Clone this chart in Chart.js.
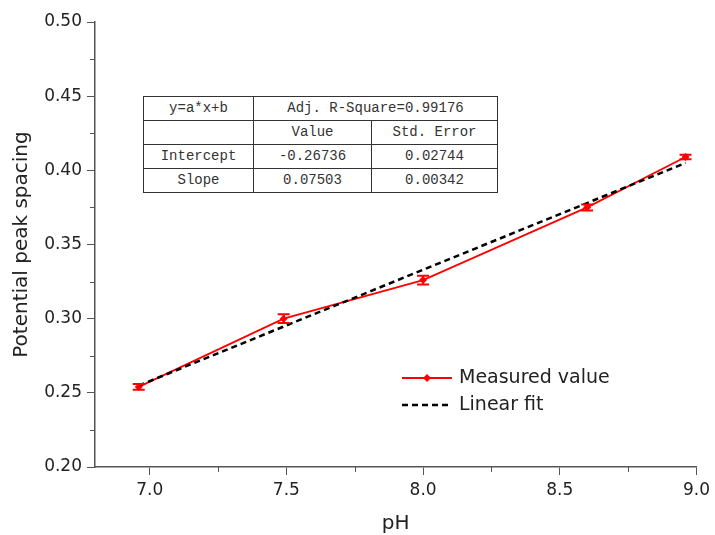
<!DOCTYPE html>
<html>
<head>
<meta charset="utf-8">
<script src="https://cdn.jsdelivr.net/npm/chart.js@4/dist/chart.umd.min.js"></script>
<style>
  body { margin: 0; background: #fff; }
  #wrap { position: relative; width: 715px; height: 535px; }
  #fitTable {
    position: absolute; left: 143px; top: 96px;
    border-collapse: collapse; background: #fff;
    font-family: "Liberation Mono", "DejaVu Sans Mono", monospace;
    font-size: 14px; color: #333;
  }
  #fitTable td {
    border: 1px solid #333; text-align: center; padding: 0;
    height: 23px; line-height: 23px;
  }
</style>
</head>
<body>
<div id="wrap">
  <canvas id="chart" width="715" height="535"></canvas>
  <table id="fitTable"></table>
</div>
<script>
// measured data
const phValues = [6.96, 7.49, 8.0, 8.6, 8.96];
const peakSpacing = [0.254, 0.300, 0.326, 0.375, 0.409];
const peakErrors = [0.002, 0.003, 0.003, 0.002, 0.0015];

// linear fit end points
const fitPh = [6.96, 8.96];
const fitValues = [0.2549, 0.4050];

// axes
const xTicks = [7.0, 7.5, 8.0, 8.5, 9.0];
const xMinorTicks = [7.25, 7.75, 8.25, 8.75];
const yTicks = [0.20, 0.25, 0.30, 0.35, 0.40, 0.45, 0.50];
const yMinorTicks = [0.225, 0.275, 0.325, 0.375, 0.425, 0.475];

// fit result table
const tableHeader = ['y=a*x+b', 'Adj. R-Square=0.99176'];
const tableColumns = ['', 'Value', 'Std. Error'];
const tableRows = [
  ['Intercept', '-0.26736', '0.02744'],
  ['Slope', '0.07503', '0.00342'],
];

const legendItems = ['Measured value', 'Linear fit'];

const axisColor = '#555';
const textColor = '#222';
const red = '#ff0000';

// build the table
const table = document.getElementById('fitTable');
const colWidths = [109, 117, 125];
let html = '<tr><td style="width:' + colWidths[0] + 'px">' + tableHeader[0] +
  '</td><td colspan="2">' + tableHeader[1] + '</td></tr>';
html += '<tr>' + tableColumns.map((c, i) =>
  '<td style="width:' + colWidths[i] + 'px">' + c + '</td>').join('') + '</tr>';
tableRows.forEach((r) => {
  html += '<tr>' + r.map((c) => '<td>' + c + '</td>').join('') + '</tr>';
});
table.innerHTML = html;

const errorBars = {
  id: 'errorBars',
  afterDatasetsDraw(chart) {
    const { ctx, scales: { x, y } } = chart;
    ctx.save();
    ctx.strokeStyle = red;
    ctx.lineWidth = 2;
    phValues.forEach((p, i) => {
      const px = x.getPixelForValue(p);
      const top = y.getPixelForValue(peakSpacing[i] + peakErrors[i]);
      const bot = y.getPixelForValue(peakSpacing[i] - peakErrors[i]);
      ctx.beginPath();
      ctx.moveTo(px, top); ctx.lineTo(px, bot);
      ctx.moveTo(px - 6, top); ctx.lineTo(px + 6, top);
      ctx.moveTo(px - 6, bot); ctx.lineTo(px + 6, bot);
      ctx.stroke();
    });
    ctx.restore();
  },
};

const minorTicks = {
  id: 'minorTicks',
  afterDraw(chart) {
    const { ctx, scales: { x, y }, chartArea } = chart;
    ctx.save();
    ctx.strokeStyle = axisColor;
    ctx.lineWidth = 1;
    ctx.beginPath();
    xMinorTicks.forEach((v) => {
      const px = Math.round(x.getPixelForValue(v)) + 0.5;
      ctx.moveTo(px, chartArea.bottom);
      ctx.lineTo(px, chartArea.bottom + 5);
    });
    yMinorTicks.forEach((v) => {
      const py = Math.round(y.getPixelForValue(v)) + 0.5;
      ctx.moveTo(chartArea.left, py);
      ctx.lineTo(chartArea.left - 5, py);
    });
    ctx.stroke();
    ctx.restore();
  },
};

const insideLegend = {
  id: 'insideLegend',
  afterDraw(chart) {
    const { ctx, chartArea } = chart;
    const x0 = chartArea.left + 307;
    const y0 = chartArea.top + 356;
    ctx.save();
    // measured value
    ctx.strokeStyle = red;
    ctx.lineWidth = 1.8;
    ctx.beginPath();
    ctx.moveTo(x0, y0); ctx.lineTo(x0 + 50, y0);
    ctx.stroke();
    ctx.fillStyle = red;
    ctx.beginPath();
    ctx.moveTo(x0 + 25, y0 - 4); ctx.lineTo(x0 + 29, y0);
    ctx.lineTo(x0 + 25, y0 + 4); ctx.lineTo(x0 + 21, y0);
    ctx.closePath();
    ctx.fill();
    // linear fit
    ctx.strokeStyle = '#000';
    ctx.lineWidth = 2.5;
    ctx.setLineDash([6, 4]);
    ctx.beginPath();
    ctx.moveTo(x0, y0 + 27); ctx.lineTo(x0 + 50, y0 + 27);
    ctx.stroke();
    ctx.setLineDash([]);
    ctx.fillStyle = textColor;
    ctx.font = '19px "DejaVu Sans"';
    ctx.textBaseline = 'middle';
    ctx.fillText(legendItems[0], x0 + 57, y0);
    ctx.fillText(legendItems[1], x0 + 57, y0 + 27);
    ctx.restore();
  },
};

new Chart(document.getElementById('chart'), {
  type: 'line',
  plugins: [errorBars, minorTicks, insideLegend],
  data: {
    datasets: [
      {
        label: legendItems[0],
        data: phValues.map((p, i) => ({ x: p, y: peakSpacing[i] })),
        borderColor: red,
        backgroundColor: red,
        borderWidth: 1.8,
        pointStyle: 'rectRot',
        pointRadius: 4,
        pointBorderWidth: 0,
        order: 1,
      },
      {
        label: legendItems[1],
        data: fitPh.map((p, i) => ({ x: p, y: fitValues[i] })),
        borderColor: '#000',
        borderWidth: 2.5,
        borderDash: [6, 4],
        pointRadius: 0,
        order: 0,
      },
    ],
  },
  options: {
    responsive: false,
    animation: false,
    layout: { padding: { top: 22, right: 16, left: 0, bottom: 0 } },
    plugins: {
      legend: { display: false },
      tooltip: { enabled: false },
    },
    scales: {
      x: {
        type: 'linear',
        min: 6.8,
        max: 9.0,
        afterBuildTicks: (scale) => { scale.ticks = xTicks.map((v) => ({ value: v })); },
        afterFit: (scale) => { scale.height = 68; },
        ticks: {
          color: textColor,
          font: { family: 'DejaVu Sans', size: 17 },
          padding: 5,
          maxRotation: 0,
          callback: (v) => Number(v).toFixed(1),
        },
        grid: { drawOnChartArea: false, tickLength: 8, color: axisColor },
        border: { color: axisColor, width: 1.5 },
        title: {
          display: true,
          text: 'pH',
          color: textColor,
          font: { family: 'DejaVu Sans', size: 20, lineHeight: 1.1 },
          padding: { top: 0, bottom: 0 },
        },
      },
      y: {
        min: 0.2,
        max: 0.5,
        afterBuildTicks: (scale) => { scale.ticks = yTicks.map((v) => ({ value: v })); },
        afterFit: (scale) => { scale.width = 95; },
        ticks: {
          color: textColor,
          font: { family: 'DejaVu Sans', size: 17 },
          padding: 5,
          callback: (v) => Number(v).toFixed(2),
        },
        grid: { drawOnChartArea: false, tickLength: 8, color: axisColor },
        border: { color: axisColor, width: 1.5 },
        title: {
          display: true,
          text: 'Potential peak spacing',
          color: textColor,
          font: { family: 'DejaVu Sans', size: 20 },
          padding: { top: 10, bottom: 0 },
        },
      },
    },
  },
});
</script>
</body>
</html>
